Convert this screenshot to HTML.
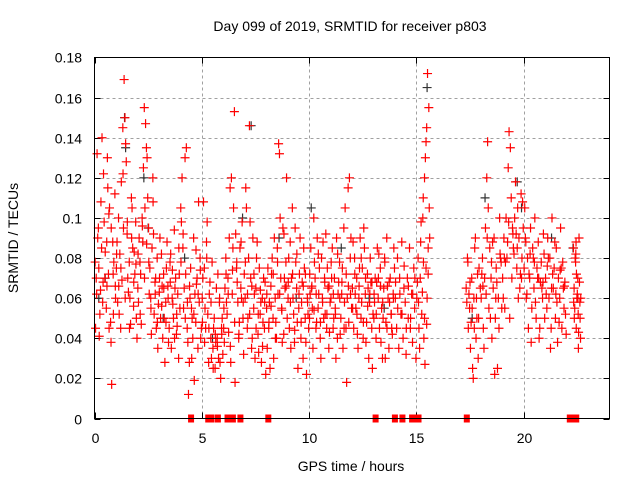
<!DOCTYPE html>
<html><head><meta charset="utf-8"><style>
body{margin:0;background:#fff}
svg{display:block}
text{font-family:"Liberation Sans",sans-serif;fill:#000}
</style></head><body>
<svg id="chart" width="640" height="480" xmlns="http://www.w3.org/2000/svg">
<text x="350" y="31" font-size="14" text-anchor="middle">Day 099 of 2019, SRMTID for receiver p803</text>
<text transform="translate(18,238) rotate(-90)" font-size="14" text-anchor="middle">SRMTID / TECUs</text>
<text x="351" y="471" font-size="14" text-anchor="middle">GPS time / hours</text>
<g id="grid"></g><g id="ticks"></g><g id="marks"></g>
<rect x="94.5" y="57.5" width="515" height="361" fill="none" stroke="#000" stroke-width="1"/>
</svg>
<script>
const xTicks=[0,5,10,15,20];
const yTicks=[0,0.02,0.04,0.06,0.08,0.1,0.12,0.14,0.16,0.18];
const yTickLabels=["0","0.02","0.04","0.06","0.08","0.1","0.12","0.14","0.16","0.18"];
const redT=[
0.05,0.1,0.15,0.2,0.25,0.3,0.35,0.4,0.45,0.5,
0.55,0.6,0.65,0.7,0.75,0.8,0.85,0.9,0.95,0.98,
0.08,0.22,0.33,0.42,0.58,0.68,0.78,0.88,0.12,0.62,
1.02,1.08,1.12,1.18,1.22,1.28,1.32,1.38,1.42,1.48,
1.52,1.58,1.62,1.68,1.72,1.78,1.82,1.88,1.92,1.98,
1.05,1.15,1.25,1.35,1.45,1.55,1.65,1.75,1.85,1.95,
2.02,2.08,2.12,2.18,2.22,2.28,2.32,2.38,2.42,2.48,
2.52,2.58,2.62,2.68,2.72,2.78,2.82,2.88,2.92,2.98,
2.05,2.15,2.25,2.35,2.45,2.55,2.65,2.75,2.85,2.95,
3.02,3.08,3.12,3.18,3.22,3.28,3.32,3.38,3.42,3.48,
3.52,3.58,3.62,3.68,3.72,3.78,3.82,3.88,3.92,3.98,
3.05,3.15,3.25,3.35,3.45,3.55,3.65,3.75,3.85,3.95,
4.02,4.08,4.12,4.18,4.22,4.28,4.32,4.38,4.42,4.48,
4.52,4.58,4.62,4.68,4.72,4.78,4.82,4.88,4.92,4.98,
4.05,4.15,4.25,4.35,4.45,4.55,4.65,4.75,4.85,4.95,
5.02,5.08,5.12,5.18,5.22,5.28,5.32,5.38,5.42,5.48,
5.52,5.58,5.62,5.68,5.72,5.78,5.82,5.88,5.92,5.98,
5.05,5.15,5.25,5.35,5.45,5.55,5.65,5.75,5.85,5.95,
6.02,6.08,6.12,6.18,6.22,6.28,6.32,6.38,6.42,6.48,
6.52,6.58,6.62,6.68,6.72,6.78,6.82,6.88,6.92,6.98,
6.05,6.15,6.25,6.35,6.45,6.55,6.65,6.75,6.85,6.95,
7.02,7.08,7.12,7.18,7.22,7.28,7.32,7.38,7.42,7.48,
7.52,7.58,7.62,7.68,7.72,7.78,7.82,7.88,7.92,7.98,
7.05,7.15,7.25,7.35,7.45,7.55,7.65,7.75,7.85,7.95,
8.02,8.08,8.12,8.18,8.22,8.28,8.32,8.38,8.42,8.48,
8.52,8.58,8.62,8.68,8.72,8.78,8.82,8.88,8.92,8.98,
8.05,8.15,8.25,8.35,8.45,8.55,8.65,8.75,8.85,8.95,
9.02,9.08,9.12,9.18,9.22,9.28,9.32,9.38,9.42,9.48,
9.52,9.58,9.62,9.68,9.72,9.78,9.82,9.88,9.92,9.98,
9.05,9.15,9.25,9.35,9.45,9.55,9.65,9.75,9.85,9.95,
10.02,10.08,10.12,10.18,10.22,10.28,10.32,10.38,10.42,10.48,
10.52,10.58,10.62,10.68,10.72,10.78,10.82,10.88,10.92,10.98,
10.05,10.15,10.25,10.35,10.45,10.55,10.65,10.75,10.85,10.95,
11.02,11.08,11.12,11.18,11.22,11.28,11.32,11.38,11.42,11.48,
11.52,11.58,11.62,11.68,11.72,11.78,11.82,11.88,11.92,11.98,
11.05,11.15,11.25,11.35,11.45,11.55,11.65,11.75,11.85,11.95,
12.02,12.08,12.12,12.18,12.22,12.28,12.32,12.38,12.42,12.48,
12.52,12.58,12.62,12.68,12.72,12.78,12.82,12.88,12.92,12.98,
12.05,12.15,12.25,12.35,12.45,12.55,12.65,12.75,12.85,12.95,
13.02,13.08,13.12,13.18,13.22,13.28,13.32,13.38,13.42,13.48,
13.52,13.58,13.62,13.68,13.72,13.78,13.82,13.88,13.92,13.98,
13.05,13.15,13.25,13.35,13.45,13.55,13.65,13.75,13.85,13.95,
14.02,14.08,14.12,14.18,14.22,14.28,14.32,14.38,14.42,14.48,
14.52,14.58,14.62,14.68,14.72,14.78,14.82,14.88,14.92,14.98,
15.02,15.08,15.12,15.18,15.22,15.28,15.32,15.38,15.42,15.48,
15.52,15.58,15.62,15.35,15.45,15.55,15.25,15.15,15.05,15.4,
15.3,15.5,15.6,15.45,15.38,15.2,15.1,15.55,15.48,15.33,
17.32,17.38,17.42,17.48,17.52,17.58,17.62,17.68,17.72,17.78,
17.82,17.88,17.92,17.98,17.35,17.45,17.55,17.65,17.75,17.85,
18.02,18.08,18.12,18.18,18.22,18.28,18.32,18.38,18.42,18.48,
18.52,18.58,18.62,18.68,18.72,18.78,18.82,18.88,18.92,18.98,
18.05,18.15,18.25,18.35,18.45,18.55,18.65,18.75,18.85,18.95,
19.02,19.08,19.12,19.18,19.22,19.28,19.32,19.38,19.42,19.48,
19.52,19.58,19.62,19.68,19.72,19.78,19.82,19.88,19.92,19.98,
19.05,19.15,19.25,19.35,19.45,19.55,19.65,19.75,19.85,19.95,
20.02,20.08,20.12,20.18,20.22,20.28,20.32,20.38,20.42,20.48,
20.52,20.58,20.62,20.68,20.72,20.78,20.82,20.88,20.92,20.98,
20.05,20.15,20.25,20.35,20.45,20.55,20.65,20.75,20.85,20.95,
21.02,21.08,21.12,21.18,21.22,21.28,21.32,21.38,21.42,21.48,
21.52,21.58,21.62,21.68,21.72,21.78,21.82,21.88,21.92,21.98,
21.05,21.15,21.25,21.35,21.45,21.55,21.65,21.75,21.85,21.95,
22.32,22.35,22.38,22.42,22.45,22.48,22.52,22.55,22.58,22.62,
22.65,22.4,22.5,22.6,22.36,22.46,22.56,22.66,22.44,22.54
];
const redV=[
.045,.062,.09,.075,.052,.108,.14,.068,.098,.083,
.055,.13,.072,.105,.048,.017,.088,.078,.112,.06,
.07,.041,.085,.122,.066,.045,.095,.052,.132,.115,
.075,.058,.1,.082,.045,.069,.145,.169,.15,.128,
.092,.063,.078,.047,.11,.085,.056,.072,.098,.04,
.088,.052,.118,.095,.137,.07,.06,.105,.083,.05,
.065,.09,.078,.047,.1,.125,.155,.147,.135,.11,
.095,.075,.06,.085,.12,.052,.068,.045,.08,.057,
.058,.072,.088,.105,.13,.062,.042,.092,.07,.035,
.063,.05,.082,.04,.072,.028,.058,.088,.066,.045,
.078,.035,.06,.05,.094,.07,.042,.062,.03,.055,
.09,.066,.05,.075,.038,.082,.057,.065,.046,.072,
.105,.12,.085,.065,.13,.135,.045,.012,.028,.075,
.055,.04,.09,.062,.048,.07,.035,.058,.08,.045,
.098,.055,.072,.038,.06,.05,.019,.067,.108,.04,
.06,.108,.075,.045,.088,.052,.028,.068,.04,.078,
.035,.05,.025,.065,.04,.03,.058,.02,.045,.032,
.07,.055,.098,.062,.03,.045,.038,.072,.028,.05,
.045,.065,.08,.052,.07,.09,.115,.12,.062,.105,
.153,.092,.075,.058,.04,.085,.065,.098,.05,.072,
.038,.058,.043,.028,.085,.018,.068,.048,.06,.032,
.06,.105,.045,.08,.146,.07,.035,.09,.055,.03,
.065,.088,.042,.075,.052,.028,.06,.07,.045,.022,
.115,.05,.098,.04,.062,.08,.033,.058,.048,.068,
.055,.075,.045,.025,.066,.08,.05,.09,.06,.04,
.085,.137,.132,.07,.055,.095,.042,.065,.078,.05,
.035,.058,.072,.03,.048,.062,.1,.038,.07,.12,
.06,.045,.088,.07,.105,.052,.038,.078,.065,.025,
.055,.09,.04,.068,.03,.075,.05,.022,.06,.045,
.08,.035,.06,.095,.048,.072,.058,.085,.038,.052,
.05,.085,.065,.035,.1,.07,.045,.09,.055,.075,
.04,.08,.06,.05,.07,.092,.045,.065,.035,.058,
.062,.055,.078,.048,.062,.03,.088,.052,.075,.043,
.06,.085,.045,.07,.055,.09,.04,.068,.078,.05,
.062,.035,.095,.105,.045,.06,.115,.12,.08,.055,
.07,.05,.03,.062,.042,.075,.058,.018,.048,.09,
.065,.045,.08,.055,.07,.035,.06,.09,.05,.075,
.04,.085,.062,.048,.072,.03,.058,.068,.045,.052,
.088,.062,.042,.075,.058,.095,.038,.065,.08,.025,
.05,.07,.04,.085,.06,.045,.075,.055,.03,.065,
.08,.048,.09,.06,.035,.07,.052,.042,.062,.075,
.058,.068,.082,.038,.05,.03,.066,.058,.045,.085,
.06,.045,.08,.035,.07,.052,.088,.04,.065,.058,
.032,.07,.05,.085,.045,.062,.038,.075,.055,.03,
.06,.08,.045,.07,.098,.063,.11,.12,.13,.145,
.172,.155,.09,.04,.075,.085,.052,.035,.068,.027,
.1,.06,.105,.138,.05,.088,.058,.072,.047,.078,
.065,.08,.045,.055,.035,.07,.025,.06,.085,.04,
.05,.03,.075,.065,.058,.062,.048,.02,.09,.072,
.06,.08,.045,.07,.095,.12,.138,.055,.085,.07,
.04,.065,.09,.05,.075,.025,.06,.1,.08,.055,
.072,.035,.062,.105,.05,.088,.022,.068,.045,.078,
.07,.09,.055,.1,.08,.125,.143,.135,.11,.095,
.085,.1,.118,.075,.105,.09,.065,.112,.08,.095,
.06,.078,.088,.05,.07,.082,.092,.06,.072,.108,
.075,.09,.06,.08,.045,.07,.095,.055,.085,.065,
.1,.05,.075,.088,.04,.068,.078,.06,.092,.05,
.105,.062,.072,.038,.08,.058,.07,.045,.065,.082,
.07,.055,.09,.06,.08,.045,.1,.065,.075,.05,
.085,.038,.07,.06,.095,.045,.078,.055,.068,.042,
.062,.08,.035,.072,.088,.058,.048,.075,.065,.052,
.085,.065,.055,.078,.045,.06,.07,.035,.09,.058,
.04,.08,.062,.068,.05,.072,.043,.06,.088,.052
];
const extraT=[
0.03,0.18,0.28,0.38,0.48,0.57,0.67,0.77,0.87,0.97,
1.03,1.13,1.23,1.33,1.43,1.53,1.63,1.73,1.83,1.93,
2.03,2.13,2.23,2.33,2.43,2.53,2.63,2.73,2.83,2.93,
3.03,3.13,3.23,3.33,3.43,3.53,3.63,3.73,3.83,3.93,
4.03,4.13,4.23,4.33,4.43,4.53,4.63,4.73,4.83,4.93,
5.03,5.13,5.23,5.33,5.43,5.53,5.63,5.73,5.83,5.93,
6.03,6.13,6.23,6.33,6.43,6.53,6.63,6.73,6.83,6.93,
7.03,7.13,7.23,7.33,7.43,7.53,7.63,7.73,7.83,7.93,
8.03,8.13,8.23,8.33,8.43,8.53,8.63,8.73,8.83,8.93,
9.03,9.13,9.23,9.33,9.43,9.53,9.63,9.73,9.83,9.93,
10.03,10.13,10.23,10.33,10.43,10.53,10.63,10.73,10.83,10.93,
11.03,11.13,11.23,11.33,11.43,11.53,11.63,11.73,11.83,11.93,
12.03,12.13,12.23,12.33,12.43,12.53,12.63,12.73,12.83,12.93,
13.03,13.13,13.23,13.33,13.43,13.53,13.63,13.73,13.83,13.93,
14.03,14.13,14.23,14.33,14.43,14.53,14.63,14.73,14.83,14.93,
17.4,17.5,17.6,17.7,17.8,17.9,18.1,18.3,18.5,18.7,
18.9,19.1,19.3,19.5,19.7,19.9,20.1,20.3,20.5,20.7,
20.9,21.1,21.3,21.5,21.7,21.9,22.33,22.43,22.53,22.63
];
const extraV=[
.078,.095,.064,.058,.07,.088,.102,.038,.072,.066,
.082,.066,.075,.122,.06,.098,.045,.09,.068,.077,
.082,.052,.096,.07,.087,.078,.055,.108,.062,.048,
.07,.056,.065,.048,.06,.068,.074,.04,.052,.085,
.078,.092,.05,.058,.066,.03,.052,.084,.062,.074,
.048,.038,.08,.045,.058,.025,.042,.036,.06,.042,
.055,.072,.062,.036,.074,.048,.078,.042,.088,.058,
.078,.062,.052,.066,.072,.045,.052,.064,.036,.058,
.062,.048,.056,.072,.04,.078,.062,.054,.092,.066,
.068,.058,.072,.044,.082,.062,.048,.066,.072,.058,
.072,.066,.054,.062,.082,.048,.058,.068,.052,.066,
.078,.062,.052,.082,.06,.068,.045,.072,.066,.062,
.055,.072,.052,.066,.08,.048,.07,.056,.062,.068,
.062,.052,.07,.066,.058,.078,.045,.068,.052,.06,
.068,.055,.062,.052,.076,.045,.066,.05,.062,.07,
.078,.068,.055,.045,.06,.05,.066,.09,.078,.06,
.082,.08,.098,.092,.085,.07,.088,.082,.078,.07,
.068,.076,.065,.062,.074,.066,.058,.082,.06,.05
];
const blackT=[0.2,1.4,1.45,2.3,2.5,4.2,6.9,7.3,8.6,10.1,11.5,12.8,15.5,18.2,19.7,19.9,21.3,22.3,0.5,3.2,5.5,9.4,13.5,17.6];
const blackV=[.06,.15,.135,.12,.095,.08,.1,.146,.09,.105,.085,.06,.165,.11,.118,.105,.09,.085,.07,.05,.04,.06,.055,.05];
const zeroT=[4.5,5.3,5.45,5.75,6.2,6.35,6.45,6.8,8.1,13.1,14.0,14.35,14.8,14.9,15.0,15.1,17.35,22.15,22.35,22.45];

const NS="http://www.w3.org/2000/svg";
const X0=94.5,X1=609.5,Y0=418.5,Y1=57.5;
function xs(t){return X0+(X1-X0)*t/24;}
function ys(v){return Y0-(Y0-Y1)*v/0.18;}
function mk(tag,at,parent){const e=document.createElementNS(NS,tag);for(const k in at)e.setAttribute(k,at[k]);parent.appendChild(e);return e;}
const grid=document.getElementById('grid'),ticks=document.getElementById('ticks'),marks=document.getElementById('marks');
xTicks.forEach((t,i)=>{
  const x=Math.round(xs(t))+0.5;
  if(i>0){
    const g=mk('line',{x1:x,x2:x,y1:Y1,y2:Y0,stroke:'#a0a0a0','stroke-dasharray':'3,3'},grid);
    
    
  }
  mk('line',{x1:x,x2:x,y1:Y0,y2:Y0-6,stroke:'#000'},ticks);
  mk('line',{x1:x,x2:x,y1:Y1,y2:Y1+6,stroke:'#000'},ticks);
  const l=mk('text',{x:x,y:443,'font-size':14,'text-anchor':'middle'},ticks);
  l.textContent=String(t);
  
  
});
yTicks.forEach((v,i)=>{
  const y=Math.round(ys(v))+0.5;
  if(i>0&&i<yTicks.length-1){
    const g=mk('line',{x1:X0,x2:X1,y1:y,y2:y,stroke:'#a0a0a0','stroke-dasharray':'3,3'},grid);
    
    
  }
  mk('line',{x1:X0,x2:X0+6,y1:y,y2:y,stroke:'#000'},ticks);
  mk('line',{x1:X1,x2:X1-6,y1:y,y2:y,stroke:'#000'},ticks);
  const l=mk('text',{x:82,y:y+5,'font-size':14,'text-anchor':'end'},ticks);
  l.textContent=yTickLabels[i];
  
  
});
function plus(t,v,col,name){
  const x=xs(t),y=ys(v);
  const p=mk('path',{d:`M${x-4.5},${y}H${x+4.5}M${x},${y-4.5}V${y+4.5}`,stroke:col,'stroke-width':1.2,fill:'none'},marks);
  
  
}
blackT.forEach((t,i)=>plus(t,blackV[i],'#333','black-point'));
redT.forEach((t,i)=>plus(t,redV[i],'#ff0000','red-point'));
extraT.forEach((t,i)=>plus(t,extraV[i],'#ff0000','red-point'));
zeroT.forEach(t=>{
  const r=mk('rect',{x:xs(t)-3,y:Y0-4,width:6,height:8,fill:'#ff0000'},marks);
  
  
});
</script>
</body></html>
